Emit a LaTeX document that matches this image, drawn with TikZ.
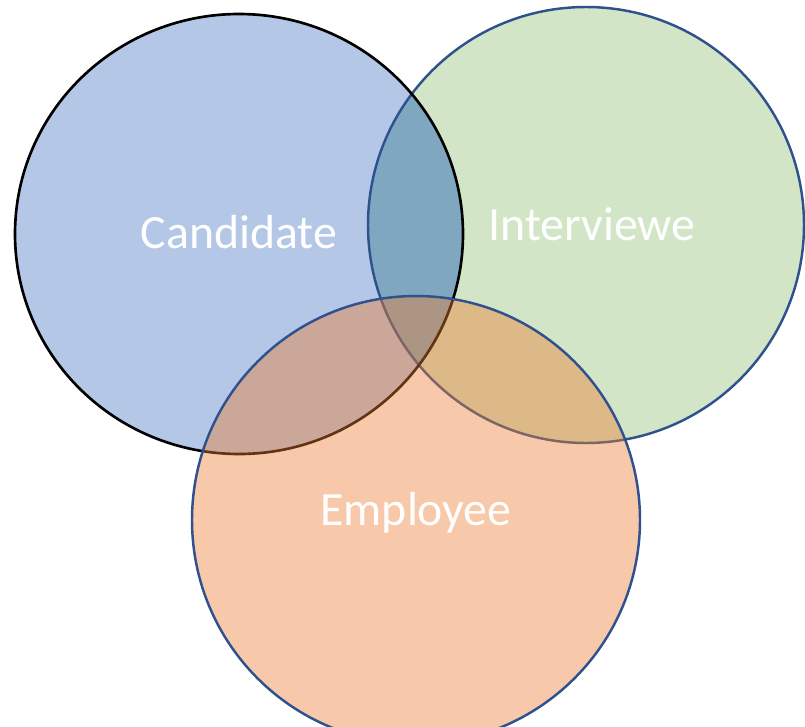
\documentclass[tikz,border=0pt]{standalone}
\usepackage{fontspec}
\setmainfont{Carlito}
\definecolor{candblue}{HTML}{B4C7E7}
\definecolor{intgreen}{HTML}{D3E5C7}
\definecolor{bothblue}{HTML}{80A7C0}
\definecolor{emporange}{HTML}{ED7D31}
\definecolor{rimblue}{HTML}{2F528F}

\begin{document}
\begin{tikzpicture}[x=0.02cm, y=-0.02cm, every node/.style={text=white, font=\fontsize{27.2}{31}\selectfont}]
  \useasboundingbox (0,0) rectangle (805,727);
  \coordinate (c) at (239,234);
  \coordinate (i) at (586,225);
  \coordinate (e) at (416,520);
  \fill[intgreen] (i) circle (218);
  \fill[candblue] (c) ellipse (224 and 220);
  \begin{scope}
    \clip (c) ellipse (224 and 220);
    \fill[bothblue] (i) circle (218);
  \end{scope}
  \draw[rimblue, line width=1.4pt] (i) circle (218);
  \draw[black, line width=1.5pt] (c) ellipse (224 and 220);
  \fill[emporange, fill opacity=0.42] (e) circle (224);
  \draw[rimblue, line width=1.4pt] (e) circle (224);
  \node (cand) at (239,232) {Candidate};
  \node (intv) at (592,224) {Interviewe};
  \node (empl) at (416,513) {Employee};
\end{tikzpicture}
\end{document}
